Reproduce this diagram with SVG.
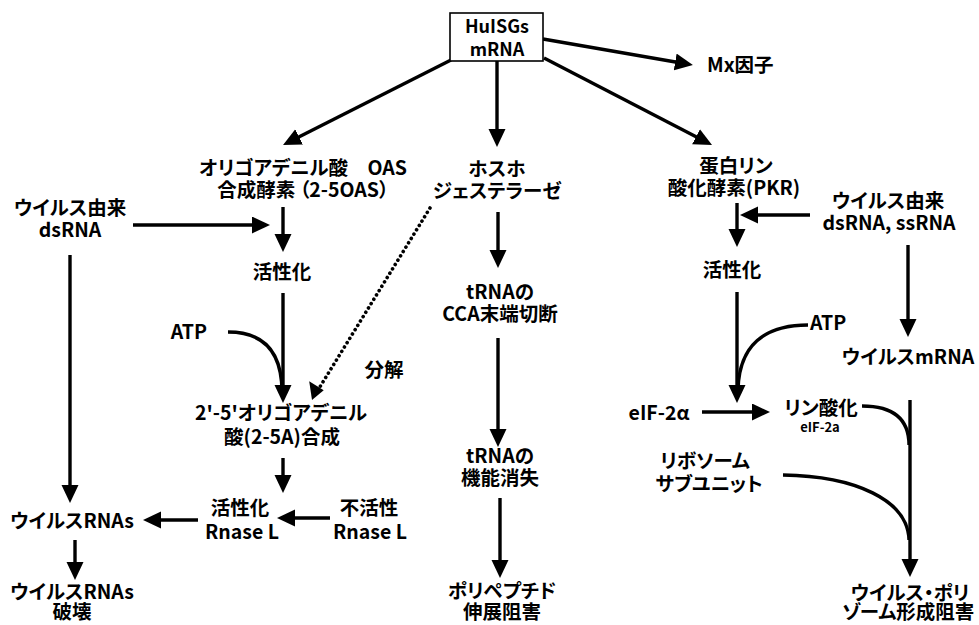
<svg xmlns="http://www.w3.org/2000/svg" width="979" height="625" viewBox="0 0 979 625">
<style>
.t{font-family:"Noto Sans CJK JP","Noto Sans",sans-serif;font-weight:700;font-size:19.5px;text-anchor:middle;fill:#000;font-feature-settings:"palt"}
.s{font-size:18px}
.sm{font-size:13px}
.ln{fill:none;stroke:#000;stroke-width:3.4}
.ar{marker-end:url(#ah)}
.dot{stroke-dasharray:0.1 5;stroke-linecap:round;stroke-width:3.6}
</style>
<defs>
<marker id="ah" markerUnits="userSpaceOnUse" markerWidth="18" markerHeight="18" refX="12" refY="8.5" orient="auto">
<path d="M0,0 L18,8.5 L0,17 Z" fill="#000"/>
</marker>
</defs>
<rect width="979" height="625" fill="#fff"/>

<g id="connectors">
<line class="ln ar" x1="543" y1="39" x2="687" y2="64"/>
<line class="ln ar" x1="451" y1="60" x2="288.4" y2="142.3"/>
<line class="ln ar" x1="497" y1="61" x2="497" y2="141"/>
<line class="ln ar" x1="544" y1="58" x2="706.7" y2="142.2"/>
<!-- left column -->
<line class="ln ar" x1="133" y1="225" x2="264" y2="225"/>
<line class="ln ar" x1="283" y1="207" x2="283" y2="246"/>
<line class="ln ar" x1="283" y1="293" x2="283" y2="397"/>
<path class="ln" d="M228,332 C262,332 282,350 282,392"/>
<line class="ln dot" x1="430" y1="208" x2="318" y2="390"/>
<path d="M312,400 L309.2,381.3 L323.7,390.2 Z" fill="#000"/>
<line class="ln ar" x1="70" y1="255" x2="70" y2="497"/>
<line class="ln ar" x1="283" y1="458" x2="283" y2="487"/>
<line class="ln ar" x1="330" y1="518" x2="283" y2="518"/>
<line class="ln ar" x1="198" y1="520" x2="149" y2="520"/>
<line class="ln ar" x1="75" y1="540" x2="75" y2="574"/>
<!-- middle column -->
<line class="ln ar" x1="498" y1="212" x2="498" y2="262"/>
<line class="ln ar" x1="498" y1="338" x2="498" y2="441"/>
<line class="ln ar" x1="500" y1="498" x2="500" y2="572"/>
<!-- right column -->
<line class="ln ar" x1="737" y1="203" x2="737" y2="241"/>
<line class="ln ar" x1="810" y1="215" x2="746" y2="215"/>
<line class="ln ar" x1="737" y1="292" x2="737" y2="397"/>
<path class="ln" d="M808,325 C765,325 739,345 738,390"/>
<line class="ln ar" x1="908" y1="245" x2="908" y2="331"/>
<line class="ln ar" x1="702" y1="412" x2="764" y2="412"/>
<path class="ln" d="M862,406 C892,406 909,418 909,445"/>
<line class="ln ar" x1="910" y1="400" x2="910" y2="571"/>
<path class="ln" d="M783,475 C855,476 908,500 909,540"/>
</g>

<g id="n-huisgs">
<rect x="450" y="13" width="93" height="48" fill="#fff" stroke="#000" stroke-width="1.6"/>
<text class="t s" x="497" y="33">HuISGs</text>
<text class="t s" x="497" y="56">mRNA</text>
</g>
<g id="n-mx"><text class="t" x="707" y="72" style="text-anchor:start">Mx因子</text></g>

<g id="n-oas">
<text class="t" x="303" y="175">オリゴアデニル酸　OAS</text>
<text class="t" x="303" y="197">合成酵素 （2-5OAS）</text>
</g>
<g id="n-virus-ds-left">
<text class="t" x="70" y="215">ウイルス由来</text>
<text class="t" x="70" y="237">dsRNA</text>
</g>
<g id="n-act-left"><text class="t" x="282" y="279">活性化</text></g>
<g id="n-atp-left"><text class="t" x="207" y="339" style="text-anchor:end">ATP</text></g>
<g id="n-bunkai"><text class="t" x="384" y="377">分解</text></g>
<g id="n-25a">
<text class="t" x="281" y="420">2'-5'オリゴアデニル</text>
<text class="t" x="282" y="444">酸(2-5A)合成</text>
</g>
<g id="n-rnasel-act">
<text class="t" x="240" y="515">活性化</text>
<text class="t" x="242" y="539">Rnase L</text>
</g>
<g id="n-rnasel-inact">
<text class="t" x="369" y="515">不活性</text>
<text class="t" x="370" y="539">Rnase L</text>
</g>
<g id="n-virus-rnas"><text class="t" x="72" y="528">ウイルスRNAs</text></g>
<g id="n-virus-rnas-destroy">
<text class="t" x="72" y="599">ウイルスRNAs</text>
<text class="t" x="72" y="619">破壊</text>
</g>

<g id="n-pde">
<text class="t" x="497" y="176">ホスホ</text>
<text class="t" x="497" y="198">ジェステラーゼ</text>
</g>
<g id="n-trna-cca">
<text class="t" x="500" y="299">tRNAの</text>
<text class="t" x="500" y="321">CCA末端切断</text>
</g>
<g id="n-trna-loss">
<text class="t" x="500" y="463">tRNAの</text>
<text class="t" x="500" y="485">機能消失</text>
</g>
<g id="n-polypeptide">
<text class="t" x="502" y="598">ポリペプチド</text>
<text class="t" x="502" y="619">伸展阻害</text>
</g>

<g id="n-pkr">
<text class="t" x="736" y="173">蛋白リン</text>
<text class="t" x="734" y="195">酸化酵素(PKR)</text>
</g>
<g id="n-virus-ds-right">
<text class="t" x="888" y="208">ウイルス由来</text>
<text class="t" x="889" y="230">dsRNA, ssRNA</text>
</g>
<g id="n-act-right"><text class="t" x="732" y="277">活性化</text></g>
<g id="n-atp-right"><text class="t" x="810" y="330" style="text-anchor:start">ATP</text></g>
<g id="n-virus-mrna"><text class="t" x="908" y="364">ウイルスmRNA</text></g>
<g id="n-eif2a"><text class="t" x="659" y="420">eIF-2α</text></g>
<g id="n-p-eif2a">
<text class="t" x="821" y="415">リン酸化</text>
<text class="t sm" x="820" y="432">eIF-2a</text>
</g>
<g id="n-ribosome">
<text class="t" x="705" y="468">リボソーム</text>
<text class="t" x="709" y="491">サブユニット</text>
</g>
<g id="n-polysome">
<text class="t" x="910" y="600">ウイルス・ポリ</text>
<text class="t" x="908" y="619">ゾーム形成阻害</text>
</g>
</svg>
